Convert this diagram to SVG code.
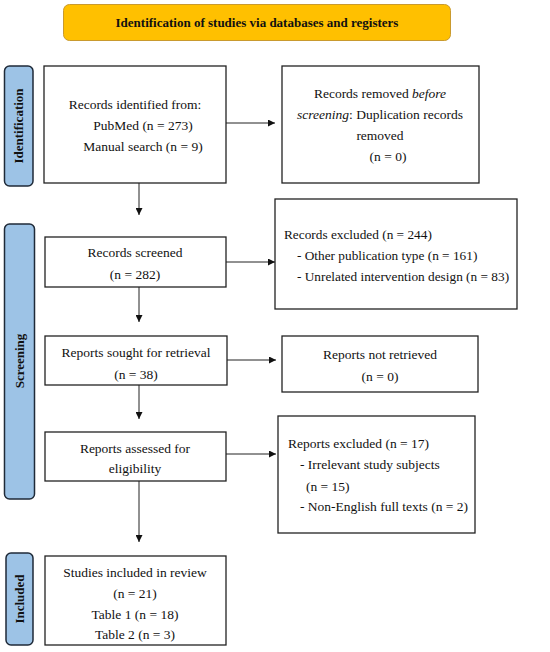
<svg xmlns="http://www.w3.org/2000/svg" width="550" height="652" viewBox="0 0 550 652">
<defs>
<style>
text{font-family:"Liberation Serif","DejaVu Serif",serif;font-size:13.5px;fill:#111}
.c{text-anchor:middle}
.b{font-weight:bold}
.t{font-size:13px}
.s{font-size:13.3px}
.box{fill:#fff;stroke:#222;stroke-width:1.3}
.tab{fill:#9DC3E6;stroke:#1f2a38;stroke-width:1.5}
.ln{stroke:#222;stroke-width:1;fill:none;marker-end:url(#ah)}
</style>
<marker id="ah" viewBox="0 0 10 10" refX="10" refY="5" markerWidth="7" markerHeight="7" markerUnits="userSpaceOnUse" orient="auto">
<path d="M0,0L10,5L0,10z" fill="#111"/>
</marker>
</defs>
<rect width="550" height="652" fill="#fff"/>
<g id="title">
<rect x="63.5" y="4.5" width="387" height="36" rx="6" fill="#FFC000" stroke="#C99A2E" stroke-width="1"/>
<text class="c b t" x="257" y="27">Identification of studies via databases and registers</text>
</g>
<g id="tab-identification">
<rect class="tab" x="4.5" y="66" width="28.5" height="120" rx="5"/>
<text class="c b t" transform="translate(23,126) rotate(-90)">Identification</text>
</g>
<g id="tab-screening">
<rect class="tab" x="4.5" y="224" width="30" height="275" rx="5"/>
<text class="c b t" transform="translate(24,361) rotate(-90)">Screening</text>
</g>
<g id="tab-included">
<rect class="tab" x="6" y="553" width="27" height="92" rx="5"/>
<text class="c b t" transform="translate(24,599) rotate(-90)">Included</text>
</g>
<g id="n-identified">
<rect class="box" x="44" y="66" width="182" height="117"/>
<text class="c" x="135" y="109">Records identified from:</text>
<text class="c" x="143" y="130">PubMed (n = 273)</text>
<text class="c" x="143" y="151">Manual search (n = 9)</text>
</g>
<g id="n-removed">
<rect class="box" x="282" y="66" width="197" height="117"/>
<text class="c" x="380" y="98">Records removed <tspan font-style="italic">before</tspan></text>
<text class="c" x="380" y="119"><tspan font-style="italic">screening</tspan>: Duplication records</text>
<text class="c" x="380" y="140">removed</text>
<text class="c" x="388" y="161">(n = 0)</text>
</g>
<g id="n-screened">
<rect class="box" x="45" y="237" width="181" height="50"/>
<text class="c" x="135" y="257">Records screened</text>
<text class="c" x="135" y="279">(n = 282)</text>
</g>
<g id="n-excluded1">
<rect class="box" x="275" y="199" width="242" height="110"/>
<text class="s" x="284" y="239">Records excluded (n = 244)</text>
<text class="s" x="297" y="260">- Other publication type (n = 161)</text>
<text class="s" x="297" y="281">- Unrelated intervention design (n = 83)</text>
</g>
<g id="n-sought">
<rect class="box" x="45" y="336" width="182" height="49"/>
<text class="c" x="136" y="357">Reports sought for retrieval</text>
<text class="c" x="136" y="379">(n = 38)</text>
</g>
<g id="n-notretrieved">
<rect class="box" x="282" y="336" width="196" height="56"/>
<text class="c" x="380" y="359">Reports not retrieved</text>
<text class="c" x="380" y="381">(n = 0)</text>
</g>
<g id="n-assessed">
<rect class="box" x="45" y="432" width="181" height="49"/>
<text class="c" x="135" y="453">Reports assessed for</text>
<text class="c" x="135" y="473">eligibility</text>
</g>
<g id="n-excluded2">
<rect class="box" x="278" y="416" width="197" height="117"/>
<text x="288" y="448">Reports excluded (n = 17)</text>
<text x="300" y="469">- Irrelevant study subjects</text>
<text x="306" y="491">(n = 15)</text>
<text x="300" y="511">- Non-English full texts (n = 2)</text>
</g>
<g id="n-included">
<rect class="box" x="45" y="556" width="181" height="89"/>
<text class="c" x="135" y="577">Studies included in review</text>
<text class="c" x="135" y="598">(n = 21)</text>
<text class="c" x="135" y="619">Table 1 (n = 18)</text>
<text class="c" x="135" y="639">Table 2 (n = 3)</text>
</g>
<g id="connectors">
<line class="ln" x1="226" y1="123" x2="275" y2="123"/>
<line class="ln" x1="139" y1="183" x2="139" y2="215"/>
<line class="ln" x1="226" y1="262" x2="275" y2="262"/>
<line class="ln" x1="139" y1="287" x2="139" y2="322"/>
<line class="ln" x1="227" y1="360" x2="276" y2="360"/>
<line class="ln" x1="139" y1="385" x2="139" y2="419"/>
<line class="ln" x1="226" y1="454" x2="276" y2="454"/>
<line class="ln" x1="139" y1="481" x2="139" y2="542"/>
</g>
</svg>
